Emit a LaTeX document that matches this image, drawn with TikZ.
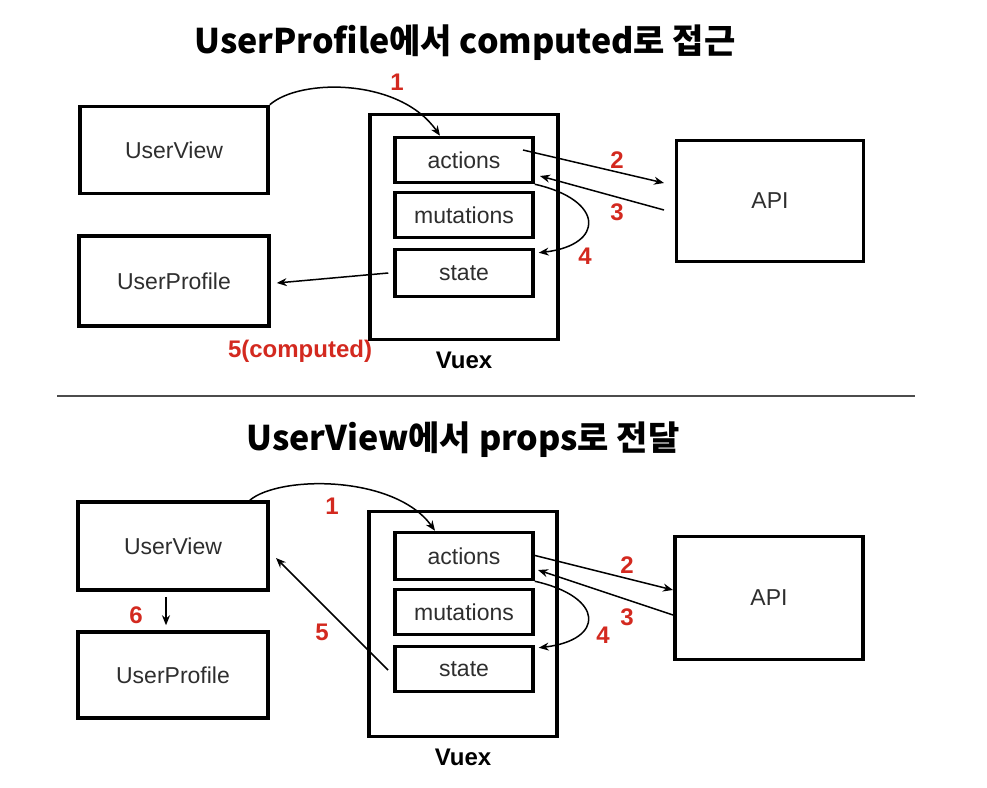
\documentclass[tikz,border=0pt]{standalone}
\usepackage{fontspec}
\setmainfont{Liberation Sans}
\newfontfamily\krfont{Noto Sans CJK KR}
\usetikzlibrary{arrows.meta}
\usetikzlibrary{positioning}

\definecolor{numred}{HTML}{D3291F}
\definecolor{boxtext}{HTML}{2E2E2E}

\tikzset{
    box/.style = {draw, line width=3.5pt, rectangle, text=boxtext, font=\fontsize{23}{26}\selectfont},
    outerbox/.style = {draw, line width=3.5pt, rectangle, minimum width=188pt, minimum height=225pt},
    num/.style = {text=numred, font=\bfseries\fontsize{24}{28}\selectfont},
    vuexlabel/.style = {font=\bfseries\fontsize{24}{28}\selectfont},
    conn/.style = {->, line width=1.5pt},
    heading/.style = {font=\krfont\bfseries\fontsize{34}{40}\selectfont},
}

\begin{document}
\begin{tikzpicture}[>={Stealth[length=10pt,width=8pt]}, x=1pt, y=-1pt]

    \useasboundingbox (0,0) rectangle (987,787);

    % upper half
    \node[heading] (title1) at (465,43) {UserProfile에서 computed로 접근};

    \node[box, minimum width=188pt, minimum height=87pt] (uv1) at (174,150) {UserView};
    \node[box, minimum width=190pt, minimum height=90pt] (up1) at (174,281) {UserProfile};

    \node[outerbox] (vuex1) at (464,227) {};
    \node[box, minimum width=138pt, minimum height=45pt] (act1) at (464,160) {actions};
    \node[box, minimum width=138pt, minimum height=45pt] (mut1) at (464,215) {mutations};
    \node[box, minimum width=138pt, minimum height=47pt] (st1) at (464,273) {state};
    \node[vuexlabel, below=7pt of vuex1] (vx1) {Vuex};

    \node[box, minimum width=187pt, minimum height=121pt] (api1) at (770,201) {API};

    \coordinate (a2s) at (523,150);
    \coordinate (a2e) at (664,183);
    \coordinate (a3s) at (664,210);
    \coordinate (a3e) at (540,176);

    \draw[conn] (uv1.north east) .. controls (300,78) and (400,78) .. ([xshift=-24pt]act1.north);
    \draw[conn] (a2s) -- (a2e);
    \draw[conn] (a3s) -- (a3e);
    \draw[conn] (act1.south east) .. controls (605,200) and (605,245) .. ([xshift=4pt,yshift=-5pt]st1.north east);
    \draw[conn] ([xshift=-5pt]st1.west) -- ([xshift=6pt,yshift=-2pt]up1.east);

    \node[num] (n11) at (397,82) {1};
    \node[num] (n12) at (617,160) {2};
    \node[num] (n13) at (617,212) {3};
    \node[num] (n14) at (585,256) {4};
    \node[num] (n15) at (300,351) {5(computed)};

    % separator
    \draw[line width=2.8pt, black!70] (57,396) -- (915,396);

    % lower half
    \node[heading] (title2) at (463,440) {UserView에서 props로 전달};

    \node[box, minimum width=190pt, minimum height=88pt] (uv2) at (173,546) {UserView};
    \node[box, minimum width=190pt, minimum height=86pt] (up2) at (173,675) {UserProfile};

    \node[outerbox] (vuex2) at (463,624) {};
    \node[box, minimum width=138pt, minimum height=47pt] (act2) at (464,556) {actions};
    \node[box, minimum width=138pt, minimum height=45pt] (mut2) at (464,612) {mutations};
    \node[box, minimum width=138pt, minimum height=45pt] (st2) at (464,669) {state};
    \node[vuexlabel, below=7pt of vuex2] (vx2) {Vuex};

    \node[box, minimum width=188pt, minimum height=123pt] (api2) at (769,598) {API};

    \coordinate (b2s) at (533,555);
    \coordinate (b2e) at (673,590);
    \coordinate (b3s) at (673,615);
    \coordinate (b3e) at (538,570);
    \coordinate (b5s) at (388,670);
    \coordinate (b5e) at (276,558);

    \draw[conn] ([xshift=-20pt]uv2.north east) .. controls (280,475) and (395,475) .. ([xshift=-29pt]act2.north);
    \draw[conn] (b2s) -- (b2e);
    \draw[conn] (b3s) -- (b3e);
    \draw[conn] (act2.south east) .. controls (605,597) and (605,640) .. ([xshift=4pt,yshift=-3pt]st2.north east);
    \draw[conn] (b5s) -- (b5e);
    \draw[conn] ([xshift=-7pt,yshift=-5pt]uv2.south) -- ([xshift=-7pt,yshift=5pt]up2.north);

    \node[num] (n21) at (332,506) {1};
    \node[num] (n22) at (627,565) {2};
    \node[num] (n23) at (627,617) {3};
    \node[num] (n24) at (603,635) {4};
    \node[num] (n25) at (322,632) {5};
    \node[num] (n26) at (136,615) {6};

\end{tikzpicture}
\end{document}
